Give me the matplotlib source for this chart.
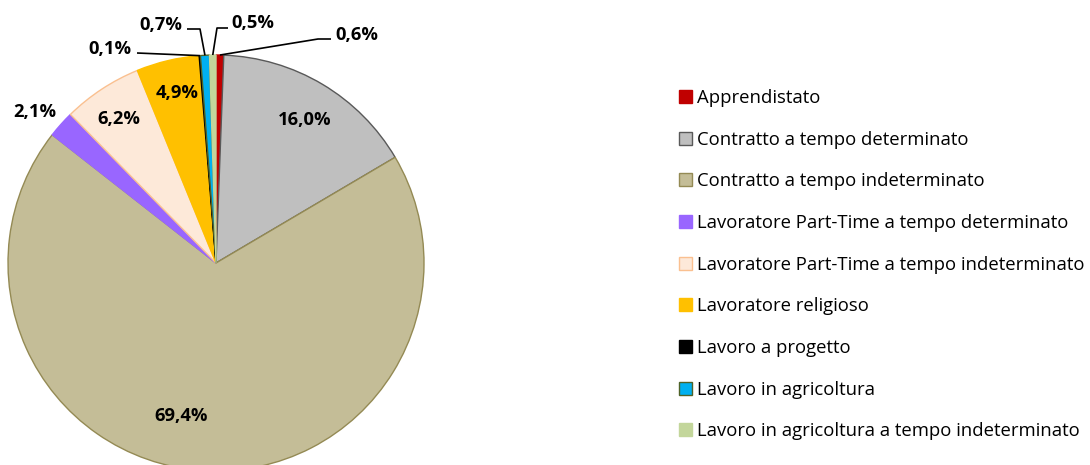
import matplotlib.pyplot as plt
import numpy as np

categories = [
    "Apprendistato",
    "Contratto a tempo determinato",
    "Contratto a tempo indeterminato",
    "Lavoratore Part-Time a tempo determinato",
    "Lavoratore Part-Time a tempo indeterminato",
    "Lavoratore religioso",
    "Lavoro a progetto",
    "Lavoro in agricoltura",
    "Lavoro in agricoltura a tempo indeterminato",
]
values = [0.6, 16.0, 69.4, 2.1, 6.2, 4.9, 0.1, 0.7, 0.5]
value_labels = ["0,6%", "16,0%", "69,4%", "2,1%", "6,2%", "4,9%", "0,1%", "0,7%", "0,5%"]

colors = ["#c00000", "#bfbfbf", "#c4bd97", "#9966ff", "#fde9d9",
          "#ffc000", "#000000", "#00b0f0", "#c3d69b"]
edgecolors = ["#c00000", "#595959", "#948a54", "#9966ff", "#fac090",
              "#ffc000", "#000000", "#4f6228", "#c3d69b"]

W, H = 1090, 465
fig = plt.figure(figsize=(W / 100, H / 100), dpi=100)
ax = fig.add_axes([0, 0, 1, 1])

cx, cy, R = 216, H - 263, 208
wedges, _ = ax.pie(values, colors=colors, startangle=90, counterclock=False,
                   center=(cx, cy), radius=R,
                   wedgeprops=dict(linewidth=1.0))
for w, ec in zip(wedges, edgecolors):
    w.set_edgecolor(ec)
ax.set_xlim(0, W)
ax.set_ylim(0, H)
ax.set_aspect("equal")
ax.axis("off")

# label positions in pixel coordinates (y from top)
label_px = [(357, 35), (305, 120), (181, 416), (35, 112), (119, 119),
            (177, 93), (110, 49), (161, 25), (253, 23)]
# leader line intermediate points (pixel coords)
leaders = {
    0: [(318, 39), (331, 39)],
    8: [(217, 28), (228, 28)],
    7: [(200, 29), (187, 29)],
    6: [(137, 53)],
}

font = "Open Sans"
for i, (w, lab) in enumerate(zip(wedges, value_labels)):
    lx, ly = label_px[i]
    ax.text(lx, H - ly, lab, ha="center", va="center", fontsize=13.2,
            fontweight="bold", family=font, color="black")
    if i in leaders:
        mid = np.deg2rad((w.theta1 + w.theta2) / 2)
        ex, ey = cx + R * np.cos(mid), cy + R * np.sin(mid)
        pts = [(ex, ey)] + [(px, H - py) for px, py in leaders[i]]
        xs, ys = zip(*pts)
        ax.plot(xs, ys, color="black", lw=1.2, solid_capstyle="butt")

leg = ax.legend(wedges, categories, loc="upper left",
                bbox_to_anchor=(679 / W, 1 - 89 / H),
                frameon=False, prop=dict(family=font, size=13.3),
                handlelength=0.7, handleheight=0.7, handletextpad=0.3,
                labelspacing=1.28, borderaxespad=0, borderpad=0)

fig.savefig("out.png", dpi=100)
